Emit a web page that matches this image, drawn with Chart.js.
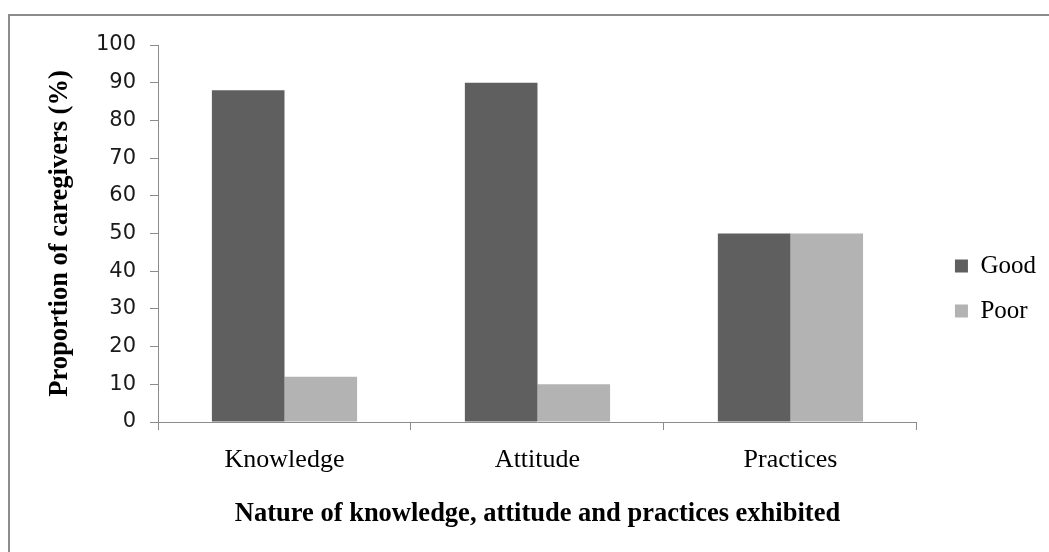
<!DOCTYPE html>
<html>
<head>
<meta charset="utf-8">
<script src="https://cdn.jsdelivr.net/npm/chart.js@4.4.0/dist/chart.umd.min.js"></script>
<style>
body { margin: 0; background: #fff; }
#wrap { position: relative; width: 1049px; height: 552px; overflow: hidden; }
#frame { position: absolute; left: 8px; top: 14px; width: 1100px; height: 600px; border: 2px solid #8c8c8c; box-sizing: border-box; }
canvas { position: absolute; left: 0; top: 0; }
</style>
</head>
<body>
<div id="wrap">
  <div id="frame"></div>
  <canvas id="chart" width="1049" height="552"></canvas>
</div>
<script>
const categories = ['Knowledge', 'Attitude', 'Practices'];
const goodValues = [88, 90, 50];
const poorValues = [12, 10, 50];
const seriesNames = ['Good', 'Poor'];
const yTitle = 'Proportion of caregivers (%)';
const xTitle = 'Nature of knowledge, attitude and practices exhibited';

const axisGray = '#8c8c8c';
const serif = '"Liberation Serif", "Times New Roman", serif';

// nudge the legend a little away from the plot, like the original
const legendShift = {
    id: 'legendShift',
    afterLayout(chart) {
        const lg = chart.legend;
        lg.left += 18; lg.right += 18;
        lg.top -= 10; lg.bottom -= 10;
    }
};

const ctx = document.getElementById('chart');
const myChart = new Chart(ctx, {
    type: 'bar',
    data: {
        labels: categories,
        datasets: [{
                label: seriesNames[0],
                data: goodValues,
                backgroundColor: '#5f5f5f',
                categoryPercentage: 0.574,
                barPercentage: 1
            }, {
                label: seriesNames[1],
                data: poorValues,
                backgroundColor: '#b3b3b3',
                categoryPercentage: 0.574,
                barPercentage: 1
            }]
    },
    options: {
        responsive: false,
        animation: false,
        layout: { padding: { right: 21, top: 45 } },
        plugins: {
            tooltip: { enabled: false },
            legend: {
                position: 'right',
                labels: {
                    boxWidth: 13,
                    boxHeight: 13,
                    padding: 20,
                    color: '#000',
                    font: { family: serif, size: 25 }
                }
            }
        },
        scales: {
            x: {
                afterFit: s => { s.height = 130; },
                grid: { drawOnChartArea: false, tickLength: 8, color: axisGray },
                border: { color: axisGray },
                ticks: { color: '#000', padding: 15, font: { family: serif, size: 26 } },
                title: {
                    display: true, text: xTitle, color: '#000',
                    font: { family: serif, size: 26.5, weight: 'bold' },
                    padding: { top: 0, bottom: 22 }
                }
            },
            y: {
                min: 0, max: 100,
                afterFit: s => { s.width = 158; },
                grid: { drawOnChartArea: false, tickLength: 8, color: axisGray },
                border: { color: axisGray },
                ticks: { stepSize: 10, color: '#1a1a1a', padding: 14, font: { family: '"DejaVu Sans", sans-serif', size: 21 } },
                title: {
                    display: true, text: yTitle, color: '#000',
                    font: { family: serif, size: 26.5, weight: 'bold' },
                    padding: { top: 44, bottom: 0 }
                }
            }
        }
    },
    plugins: [legendShift]
});
</script>
</body>
</html>
